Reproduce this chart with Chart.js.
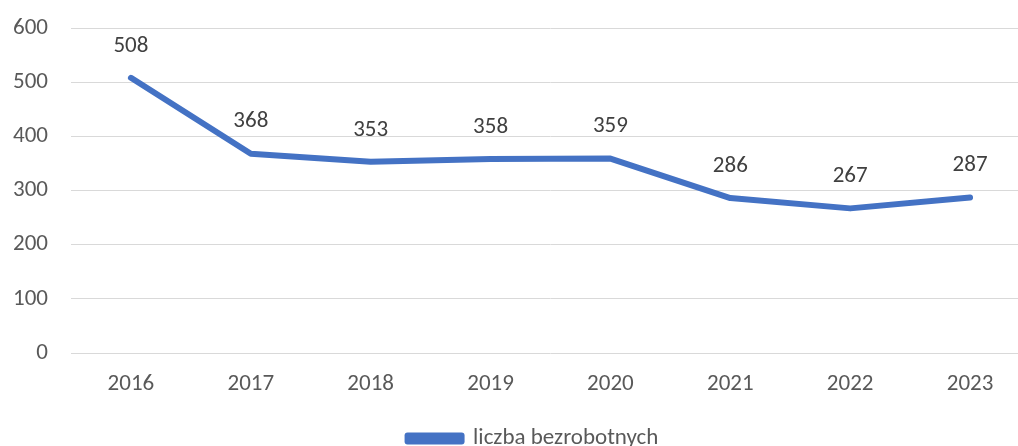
<!DOCTYPE html>
<html>
<head>
<script src="https://cdn.jsdelivr.net/npm/chart.js@4.4.0/dist/chart.umd.min.js"></script>
<style>
  body { margin: 0; overflow: hidden; background: #fff; }
  #wrap { width: 1062px; height: 460px; }
</style>
</head>
<body>
<div id="wrap"><canvas id="myChart" width="1062" height="460"></canvas></div>
<script>
  var years = ['2016', '2017', '2018', '2019', '2020', '2021', '2022', '2023'];
  var unemployed = [508, 368, 353, 358, 359, 286, 267, 287];
  var seriesName = 'liczba bezrobotnych';

  var fontFam = 'Carlito, Calibri, Lato, "Open Sans", sans-serif';

  // value labels above the points
  var valueLabels = {
    id: 'valueLabels',
    afterDatasetsDraw: function(chart) {
      var ctx = chart.ctx;
      var meta = chart.getDatasetMeta(0);
      ctx.save();
      ctx.font = '23px ' + fontFam;
      ctx.fillStyle = '#404040';
      ctx.textAlign = 'center';
      ctx.textBaseline = 'middle';
      meta.data.forEach(function(pt, i) {
        ctx.fillText(String(unemployed[i]), pt.x, pt.y - 32);
      });
      ctx.restore();
    }
  };

  // nudge the legend a bit to the right, like the original
  var legendShift = {
    id: 'legendShift',
    afterLayout: function(chart) {
      if (chart.legend) { chart.legend.left += 36; }
    }
  };

  var ctx = document.getElementById('myChart').getContext('2d');
  var myChart = new Chart(ctx, {
    type: 'line',
    data: {
      labels: years,
      datasets: [{
        label: seriesName,
        data: unemployed,
        borderColor: '#4472C4',
        backgroundColor: '#4472C4',
        borderWidth: 6,
        borderCapStyle: 'round',
        borderJoinStyle: 'round',
        pointRadius: 0,
        tension: 0
      }]
    },
    options: {
      responsive: false,
      animation: false,
      layout: { padding: { left: 0, right: 32, top: 28, bottom: 0 } },
      scales: {
        x: {
          offset: true,
          grid: { display: false },
          border: { display: false },
          ticks: { color: '#595959', font: { size: 23, family: fontFam }, padding: 9 },
          afterFit: function(s) { s.height = 64; s.paddingLeft = 0; s.paddingRight = 0; }
        },
        y: {
          min: 0,
          max: 600,
          grid: { color: '#d9d9d9', lineWidth: 1, drawTicks: false },
          border: { display: false },
          ticks: { stepSize: 100, color: '#595959', font: { size: 23, family: fontFam }, padding: 23 },
          afterFit: function(s) { s.width = 71; s.paddingTop = 0; s.paddingBottom = 0; }
        }
      },
      plugins: {
        legend: {
          position: 'bottom',
          labels: {
            color: '#595959',
            font: { size: 23, family: fontFam },
            boxWidth: 54,
            boxHeight: 6,
            padding: 10
          }
        },
        tooltip: { enabled: false }
      }
    },
    plugins: [valueLabels, legendShift]
  });
</script>
</body>
</html>
